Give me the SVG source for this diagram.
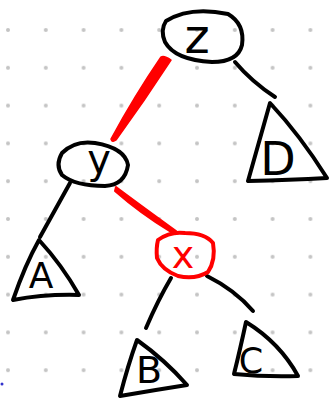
<svg xmlns="http://www.w3.org/2000/svg" width="329" height="402" viewBox="0 0 329 402">
<defs>
<pattern id="dots" x="0" y="0" width="37.8" height="37.8" patternUnits="userSpaceOnUse" patternTransform="translate(8,30)">
<circle cx="0" cy="0" r="2" fill="#c4c4c4"/>
<circle cx="37.8" cy="0" r="2" fill="#c4c4c4"/>
<circle cx="0" cy="37.8" r="2" fill="#c4c4c4"/>
<circle cx="37.8" cy="37.8" r="2" fill="#c4c4c4"/>
</pattern>
</defs>
<style>
.k{fill:none;stroke:#000;stroke-width:4;stroke-linecap:round;stroke-linejoin:round}
.r{fill:none;stroke:#f00;stroke-width:4;stroke-linecap:round;stroke-linejoin:round}
.t{font-family:"DejaVu Sans",sans-serif;text-anchor:middle;fill:#000}
.tr{fill:#f00}
</style>
<rect width="329" height="402" fill="#fff"/>
<rect width="329" height="402" fill="url(#dots)"/>
<g id="connectors">
<path class="k" d="M235,62 Q252,82 275,97"/>
<path d="M161,57 Q164,55 171,60 Q145,100 116,140 Q112,143 111,139 Q135,95 161,57 Z" fill="#f00" stroke="#f00" stroke-width="1.5" stroke-linejoin="round"/>
<path d="M116,187 Q140,205 176,231 Q174,234 171,232 Q140,213 115,191 Z" fill="#f00" stroke="#f00" stroke-width="2" stroke-linejoin="round"/>
<path class="k" d="M70,183 Q55,210 40,237"/>
<path class="k" d="M171,278 Q158,300 146,328"/>
<path class="k" d="M207,276 Q235,290 253,311"/>
</g>
<g id="node-z">
<path class="k" d="M166,21 Q190,6 228,14 Q245,24 242,45 Q238,62 212,62 Q175,60 165,42 Q160,30 166,21"/>
<text class="t" x="197" y="53" font-size="48">z</text>
</g>
<g id="node-y">
<path class="k" d="M62,153 Q75,140 95,143 Q125,148 128,165 Q125,185 105,186 Q75,186 62,175 Q55,165 62,153"/>
<text class="t" x="99" y="173" font-size="40">y</text>
</g>
<g id="node-x">
<path class="r" d="M158,240 Q170,231 185,233 Q205,233 213,243 Q216,260 208,272 Q195,280 178,276 Q162,270 157,258 Q156,248 158,240"/>
<text class="t tr" x="183" y="268" font-size="38">x</text>
</g>
<g id="node-D">
<path class="k" d="M270,103 L248,181 Q290,180 327,178 Q300,135 270,103 Z"/>
<text class="t" x="278" y="175" font-size="46">D</text>
</g>
<g id="node-A">
<path class="k" d="M39,240 Q25,265 13,300 Q45,294 79,295 Q62,265 39,240 Z"/>
<text class="t" x="41" y="288" font-size="36">A</text>
</g>
<g id="node-B">
<path class="k" d="M137,340 Q128,365 120,396 Q155,390 187,385 Q165,360 137,340 Z"/>
<text class="t" x="149" y="383" font-size="38">B</text>
</g>
<g id="node-C">
<path class="k" d="M246,322 Q240,350 234,374 Q265,377 298,376 Q280,343 246,322 Z"/>
<text class="t" x="251" y="373" font-size="35">C</text>
</g>
<circle cx="2" cy="384" r="1.5" fill="#33c"/>
</svg>
